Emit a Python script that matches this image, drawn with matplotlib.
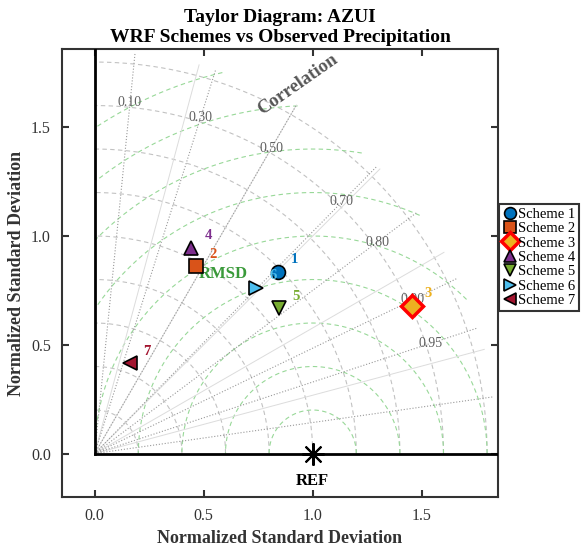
import numpy as np
import matplotlib
matplotlib.use("Agg")
import matplotlib.pyplot as plt

plt.rcParams['font.family'] = ['Liberation Serif', 'DejaVu Serif']

# data
schemes = ['Scheme 1', 'Scheme 2', 'Scheme 3', 'Scheme 4', 'Scheme 5', 'Scheme 6', 'Scheme 7']
std_vals = [1.186, 0.979, 1.605, 1.045, 1.079, 1.063, 0.446]
corr_vals = [0.709, 0.475, 0.906, 0.424, 0.785, 0.697, 0.363]
markers = ['o', 's', 'D', '^', 'v', '>', '<']
colors = ['#0072BD', '#D95319', '#EDB120', '#7E2F8E', '#77AC30', '#4DBEEE', '#A2142F']
best = 2  # scheme 3 is highlighted with a red edge

corr_ticks = [0.10, 0.30, 0.50, 0.70, 0.80, 0.90, 0.95, 0.99]
corr_labels = [0.10, 0.30, 0.50, 0.70, 0.80, 0.90, 0.95]
std_arcs = [0.2, 0.4, 0.6, 0.8, 1.0, 1.2, 1.4, 1.6, 1.8]
rmsd_arcs = [0.2, 0.4, 0.6, 0.8, 1.0, 1.2, 1.4, 1.6, 1.8]
max_std = 1.85

fig = plt.figure(figsize=(5.86, 5.51), dpi=100)
ax = fig.add_axes([62 / 586, 1 - 497 / 551, 436 / 586, 448 / 551])

# std arcs around the origin
th = np.linspace(0, np.pi / 2, 200)
for r in std_arcs:
    ax.plot(r * np.cos(th), r * np.sin(th), ls=(0, (4, 3)), color='#c2c2c2', lw=0.8, zorder=1)

# rmsd arcs around REF
th2 = np.linspace(0, np.pi, 400)
for r in rmsd_arcs:
    x = 1 + r * np.cos(th2)
    y = r * np.sin(th2)
    mask = (np.hypot(x, y) > max_std) | (x < 0)
    x = np.where(mask, np.nan, x)
    y = np.where(mask, np.nan, y)
    ax.plot(x, y, ls=(0, (4, 3)), color='#98d898', lw=0.8, zorder=1)

# light radial lines every 15 deg
for deg in [15, 30, 45, 60, 75]:
    a = np.deg2rad(deg)
    ax.plot([0, max_std * np.cos(a)], [0, max_std * np.sin(a)], color='#dcdcdc', lw=0.7, zorder=1)

# correlation lines
for c in corr_ticks:
    a = np.arccos(c)
    ax.plot([0, max_std * np.cos(a)], [0, max_std * np.sin(a)], ls=':', color='#999999', lw=0.8, zorder=1)
for c in corr_labels:
    a = np.arccos(c)
    ax.text(1.62 * np.cos(a), 1.62 * np.sin(a), '%.2f' % c, color='#606060', fontsize=10,
            ha='center', va='center', zorder=2)

# thick axis lines
ax.plot([0, 0], [0, 1.86], color='black', lw=2, zorder=3)
ax.plot([0, 1.85], [0, 0], color='black', lw=2, zorder=3)

ax.text(0.93, 1.695, 'Correlation', rotation=35, color='#555555', fontsize=13.5,
        fontweight='bold', ha='center', va='center')
ax.text(0.592, 0.827, 'RMSD', color='#3a9a3a', fontsize=12, fontweight='bold',
        ha='center', va='center', zorder=4)

# reference point
ax.plot(1, 0, marker=(8, 2, 0), ms=16, mew=1.5, color='black', zorder=6)
ax.text(1.0, -0.125, 'REF', fontsize=12, fontweight='bold', ha='center', va='center')

handles = []
for i, name in enumerate(schemes):
    a = np.arccos(corr_vals[i])
    x = std_vals[i] * np.cos(a)
    y = std_vals[i] * np.sin(a)
    if i == best:
        kw = dict(ms=11, mec='red', mew=2.5)
    else:
        kw = dict(ms=10, mec='black', mew=1.2)
    h, = ax.plot(x, y, ls='none', marker=markers[i], mfc=colors[i], label=name, zorder=5, **kw)
    handles.append(h)
    ax.annotate(str(i + 1), (x, y), xytext=(12, 8.5), textcoords='offset points',
                color=colors[i], fontsize=10.5, fontweight='bold', ha='center', va='center', zorder=5)

ax.set_xlim(-0.15, 1.85)
ax.set_ylim(-0.2, 1.86)
ax.set_xticks([0, 0.5, 1.0, 1.5])
ax.set_yticks([0, 0.5, 1.0, 1.5])
ax.xaxis.set_major_formatter(matplotlib.ticker.FormatStrFormatter('%.1f'))
ax.yaxis.set_major_formatter(matplotlib.ticker.FormatStrFormatter('%.1f'))
ax.tick_params(direction='in', top=True, right=True, length=5, width=1.5,
               labelsize=11.5, colors='#333333', labelcolor='#333333', pad=8)
for s in ax.spines.values():
    s.set_linewidth(1.5)
    s.set_color('#333333')

ax.set_xlabel('Normalized Standard Deviation', fontsize=13, fontweight='bold', color='#333333')
ax.set_ylabel('Normalized Standard Deviation', fontsize=13, fontweight='bold', color='#333333')
ax.set_title('Taylor Diagram: AZUI\nWRF Schemes vs Observed Precipitation',
             fontsize=14, fontweight='bold', pad=5, linespacing=1.25)

leg = ax.legend(handles=handles, loc='center left', bbox_to_anchor=(1.003, 0.535),
                fontsize=10.5, fancybox=False, framealpha=1, borderpad=0.25, markerscale=0.85,
                handletextpad=0.05, handlelength=1.0, labelspacing=0.08, borderaxespad=0)
leg.get_frame().set_edgecolor('#333333')
leg.get_frame().set_linewidth(1.5)

fig.savefig('out.png', dpi=100)
